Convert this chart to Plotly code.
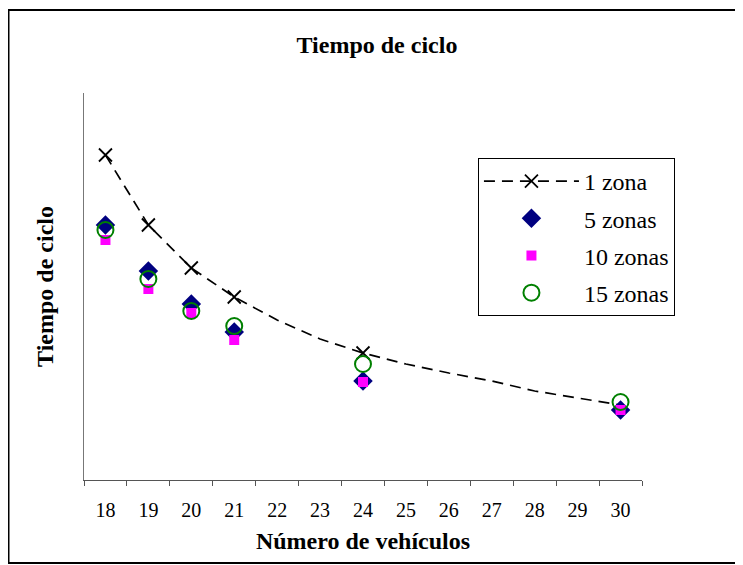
import plotly.graph_objects as go

categories = [str(v) for v in range(18, 31)]

# 1 zona: dashed line over all categories, markers only at measured points
zona1_x = categories
zona1_y = [325, 255, 212, 183, 160, 141, 127, 116, 107, 99, 89, 82, 75]
zona1_marked = ["18", "19", "20", "21", "24"]

pts_x = ["18", "19", "20", "21", "24", "30"]
zonas5_y = [255, 209, 176, 148, 99, 70]
zonas10_y = [240, 191, 167, 140, 98, 70]
zonas15_y = [250, 201, 169, 154, 116, 78]

FONT = "Liberation Serif"

fig = go.Figure()

fig.add_trace(go.Scatter(
    x=zona1_x, y=zona1_y, name="1 zona", mode="lines+markers",
    line=dict(color="black", width=1.7, dash="11px,7px"),
    marker=dict(symbol="x-thin-open", size=13, line=dict(width=1.8),
                color=["black" if c in zona1_marked else "rgba(0,0,0,0)" for c in zona1_x]),
    legendgroup="a",
))
fig.add_trace(go.Scatter(
    x=pts_x, y=zonas5_y, name="5 zonas", mode="markers",
    marker=dict(symbol="diamond", size=15, color="#000080"),
    legendgroup="b",
))
fig.add_trace(go.Scatter(
    x=pts_x, y=zonas10_y, name="10 zonas", mode="markers",
    marker=dict(symbol="square", size=10, color="#FF00FF"),
    legendgroup="c",
))
fig.add_trace(go.Scatter(
    x=pts_x, y=zonas15_y, name="15 zonas", mode="markers",
    marker=dict(symbol="circle-open", size=16, color="#008000", line=dict(width=2)),
    legendgroup="d",
))

fig.update_layout(
    width=735, height=557,
    margin=dict(l=76, r=101, t=85, b=85),
    paper_bgcolor="white", plot_bgcolor="white",
    font=dict(family=FONT, size=20, color="black"),
    title=dict(text="<b>Tiempo de ciclo</b>", x=0.502, xref="container", xanchor="center",
               y=0.934, yref="container", yanchor="middle",
               font=dict(family=FONT, size=24, color="black")),
    showlegend=True,
    legend=dict(x=0.706, y=0.832, xanchor="left", yanchor="top",
                bordercolor="black", borderwidth=1, bgcolor="white",
                font=dict(family=FONT, size=24), tracegroupgap=3,
                traceorder="grouped", itemwidth=95),
    xaxis=dict(type="category", categoryorder="array", categoryarray=categories,
               range=[-0.5, 12.5],
               tickson="boundaries", ticks="outside", ticklen=5, tickcolor="#555",
               ticklabelstandoff=12,
               showline=True, linecolor="#555", linewidth=1, showgrid=False,
               zeroline=False, tickfont=dict(family=FONT, size=20),
               title=dict(text="<b>Número de vehículos</b>", font=dict(family=FONT, size=24),
                          standoff=12)),
    yaxis=dict(range=[0, 387], showline=True, linecolor="#777", linewidth=1,
               showticklabels=False, ticks="", showgrid=False, zeroline=False,
               title=dict(text="<b>Tiempo de ciclo</b>", font=dict(family=FONT, size=24),
                          standoff=22)),
    shapes=[dict(type="rect", xref="paper", yref="paper",
                 x0=-0.1353, x1=1.1756, y0=-0.2145, y1=1.2145,
                 line=dict(color="black", width=2), fillcolor="rgba(0,0,0,0)")],
)

fig.write_html("out.html")
